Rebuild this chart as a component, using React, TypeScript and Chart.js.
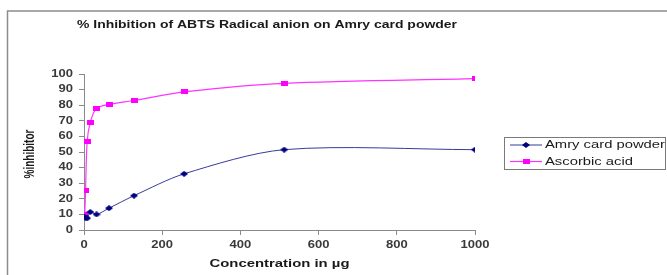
import React, { useEffect, useRef } from "react";
import { Chart, registerables } from "chart.js";

Chart.register(...registerables);

const chartTitle = "% Inhibition of ABTS Radical anion on Amry card powder";
const xAxisTitle = "Concentration in µg";
const yAxisTitle = "%inhibitor";
const concentrations = [2, 4, 8, 16, 32, 64, 128, 256, 512, 1000];
const amryCardPowder = [8.5, 8, 7.5, 11.5, 10, 14, 22, 36, 51.5, 51.5];
const ascorbicAcid = [10, 25.5, 56.5, 69, 78, 80.5, 83, 88.5, 94, 97];
const seriesLabels = ["Amry card powder", "Ascorbic acid"];

const FONT = "'Liberation Sans', Arial, sans-serif";

function makeDiamond(color: string) {
  const c = document.createElement("canvas");
  c.width = 8;
  c.height = 6;
  const g = c.getContext("2d")!;
  g.fillStyle = color;
  g.beginPath();
  g.moveTo(4, 0);
  g.lineTo(8, 3);
  g.lineTo(4, 6);
  g.lineTo(0, 3);
  g.closePath();
  g.fill();
  return c;
}

function makeSquare(color: string) {
  const c = document.createElement("canvas");
  c.width = 7;
  c.height = 5;
  const g = c.getContext("2d")!;
  g.fillStyle = color;
  g.fillRect(0, 0, 7, 5);
  return c;
}

function drawStretched(
  ctx: CanvasRenderingContext2D,
  text: string,
  x: number,
  y: number,
  font: string,
  sx: number,
  align: CanvasTextAlign,
  color: string
) {
  ctx.save();
  ctx.font = font;
  ctx.fillStyle = color;
  ctx.textBaseline = "middle";
  ctx.textAlign = align;
  ctx.translate(x, y);
  ctx.scale(sx, 1);
  ctx.fillText(text, 0, 0);
  ctx.restore();
}

function drawFit(
  ctx: CanvasRenderingContext2D,
  text: string,
  x: number,
  y: number,
  font: string,
  width: number,
  align: CanvasTextAlign,
  color: string
) {
  ctx.save();
  ctx.font = font;
  const w = ctx.measureText(text).width;
  ctx.restore();
  drawStretched(ctx, text, x, y, font, width / w, align, color);
}

export default function App() {
  const ref = useRef<HTMLCanvasElement | null>(null);

  useEffect(() => {
    if (!ref.current) return;
    const blueMarker = makeDiamond("#000080");
    const pinkMarker = makeSquare("#ff00ff");

    const overlay = {
      id: "overlay",
      beforeDraw(chart: any) {
        const ctx = chart.ctx as CanvasRenderingContext2D;
        ctx.save();
        ctx.fillStyle = "#ffffff";
        ctx.fillRect(0, 0, chart.width, chart.height);
        ctx.strokeStyle = "#8c8c8c";
        ctx.lineWidth = 1.5;
        ctx.beginPath();
        ctx.moveTo(7.5, chart.height);
        ctx.lineTo(7.5, 11);
        ctx.lineTo(chart.width, 11);
        ctx.stroke();
        ctx.restore();
      },
      afterDraw(chart: any) {
        const ctx = chart.ctx as CanvasRenderingContext2D;
        const xs = chart.scales.x;
        const ys = chart.scales.y;
        const tickFont = `bold 10px ${FONT}`;
        xs.ticks.forEach((t: any) => {
          drawStretched(ctx, String(t.value), xs.getPixelForValue(t.value), 245, tickFont, 1.3, "center", "#3a3a3a");
        });
        ys.ticks.forEach((t: any) => {
          drawStretched(ctx, String(t.value), 73, ys.getPixelForValue(t.value), tickFont, 1.3, "right", "#3a3a3a");
        });
        // title
        drawFit(ctx, chartTitle, 267, 25, `bold 11.5px ${FONT}`, 380, "center", "#1a1a1a");
        // x title
        drawFit(ctx, xAxisTitle, (chart.chartArea.left + chart.chartArea.right) / 2, 263.5, `bold 11.5px ${FONT}`, 140, "center", "#1a1a1a");
        // y title (rotated)
        ctx.save();
        ctx.translate(30.5, 154);
        ctx.rotate(-Math.PI / 2);
        ctx.scale(1, 1.4);
        ctx.font = `bold 10px ${FONT}`;
        ctx.fillStyle = "#1a1a1a";
        ctx.textAlign = "center";
        ctx.textBaseline = "middle";
        ctx.fillText(yAxisTitle, 0, 0);
        ctx.restore();
        // legend
        ctx.save();
        ctx.strokeStyle = "#7a7a7a";
        ctx.lineWidth = 1;
        ctx.strokeRect(504.5, 137.5, 161, 32);
        ctx.restore();
        const rows = [145, 161.5];
        const widths = [120, 88];
        chart.data.datasets.forEach((ds: any, i: number) => {
          const y = rows[i];
          ctx.save();
          ctx.strokeStyle = ds.borderColor;
          ctx.lineWidth = ds.borderWidth;
          ctx.beginPath();
          ctx.moveTo(510, y);
          ctx.lineTo(542, y);
          ctx.stroke();
          const img = ds.pointStyle as HTMLCanvasElement;
          ctx.drawImage(img, 526 - img.width / 2, y - img.height / 2);
          ctx.restore();
          drawFit(ctx, ds.label, 545, y, `11px ${FONT}`, widths[i], "left", "#1a1a1a");
        });
      },
    };

    const axisGrid = {
      drawOnChartArea: false,
      drawTicks: true,
      tickLength: 5,
      color: "#8a8a8a",
    };

    const chart = new Chart(ref.current, {
      type: "line",
      data: {
        datasets: [
          {
            label: seriesLabels[0],
            data: concentrations.map((x, i) => ({ x, y: amryCardPowder[i] })),
            borderColor: "#3a3a9a",
            borderWidth: 1,
            pointStyle: blueMarker as any,
            pointRadius: 3,
            tension: 0.3,
          },
          {
            label: seriesLabels[1],
            data: concentrations.map((x, i) => ({ x, y: ascorbicAcid[i] })),
            borderColor: "#ff33ff",
            borderWidth: 1.2,
            pointStyle: pinkMarker as any,
            pointRadius: 3,
            tension: 0.3,
          },
        ],
      },
      options: {
        animation: false,
        responsive: false,
        maintainAspectRatio: false,
        devicePixelRatio: 1,
        layout: { padding: { top: 74, right: 192, left: 0, bottom: 0 } },
        plugins: {
          legend: { display: false },
          title: { display: false },
          tooltip: { enabled: false },
        },
        scales: {
          x: {
            type: "linear",
            min: 0,
            max: 1000,
            ticks: { stepSize: 200, display: false },
            grid: axisGrid,
            border: { color: "#8a8a8a", width: 1 },
            afterFit: (s: any) => {
              s.height = 45;
            },
          },
          y: {
            type: "linear",
            min: 0,
            max: 100,
            ticks: { stepSize: 10, display: false },
            grid: axisGrid,
            border: { color: "#8a8a8a", width: 1 },
            afterFit: (s: any) => {
              s.width = 84;
            },
          },
        },
      },
      plugins: [overlay],
    } as any);

    return () => chart.destroy();
  }, []);

  return (
    <div style={{ position: "fixed", left: 0, top: 0, width: 667, height: 275, background: "#fff" }}>
      <canvas ref={ref} width={667} height={275} style={{ width: 667, height: 275, display: "block" }} />
    </div>
  );
}
